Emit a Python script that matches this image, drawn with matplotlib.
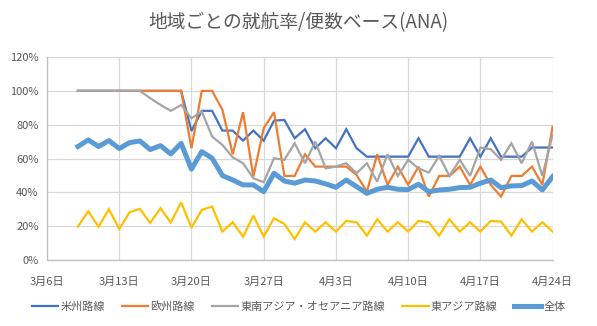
import matplotlib
matplotlib.use("Agg")
import matplotlib.pyplot as plt
import matplotlib.dates as mdates
import pandas as pd

plt.rcParams['font.family'] = ['Noto Sans CJK JP', 'DejaVu Sans']

title = "地域ごとの就航率/便数ベース(ANA)"
series_names = ["米州路線", "欧州路線", "東南アジア・オセアニア路線", "東アジア路線", "全体"]

start_date = "2020-03-09"
n_days = 47
dates = pd.date_range(start_date, periods=n_days, freq="D")

americas = [100, 100, 100, 100, 100, 100, 100, 100, 100, 100, 100,
            76.3, 88.2, 88.2, 76.5, 76.5, 70.6, 76.5, 70.6, 82.4, 82.8, 72, 77.3,
            66.1, 72, 66.1, 77.3, 66.1, 61.1, 61.1, 61.1, 61.1, 61.1, 72, 61.1,
            61.1, 61.1, 61.1, 72, 61.1, 72, 61.1, 61.1, 61.1, 66.5, 66.5, 66.5]
europe = [100, 100, 100, 100, 100, 100, 100, 100, 100, 100, 100,
          66.1, 100, 100, 88.8, 62.5, 87.4, 49.3, 77.9, 87.4, 49.7, 49.7, 62.5,
          55.2, 55.2, 55.2, 55.2, 50.3, 40.4, 62.5, 44.4, 55.2, 44.4, 55.2, 37.5,
          49.7, 49.7, 55.2, 44.4, 55.2, 44.4, 37.5, 49.7, 49.7, 55.2, 44.4, 78.9]
se_asia = [100, 100, 100, 100, 100, 100, 100,
           95.7, 91.7, 88.2, 91.7, 83.8, 87.8, 73, 68, 60.7, 57.2, 48.3, 46, 60.2, 59.2, 69, 57.2,
           70, 54.2, 55.2, 57.2, 51.3, 57.2, 46.3, 62.5, 49.7, 59.2, 54.2, 51.7,
           61.5, 49.7, 59.2, 49.7, 66.5, 65.5, 59.2, 69, 57.2, 70, 49.7, 74]
east_asia = [19.7, 28.8, 19.7, 30, 18.3, 28.2, 30.2, 21.9, 30.6, 22.1, 34.1, 19.1,
             29.6, 31.6, 16.8, 22.3, 13.8, 26.2, 13.8, 24.7, 21.3, 12.4, 22.3,
             16.8, 22.3, 16.8, 23.1, 22.3, 14.4, 24.1, 16.8, 22.3, 16.8, 23.1, 22.3,
             14.4, 24.1, 16.8, 22.3, 16.8, 23.1, 22.7, 14.4, 24.1, 16.8, 22.3, 16.8]
overall = [67.1, 71, 67.1, 70.6, 65.9, 69.4, 70.4, 65.3, 67.6, 62.7, 69, 53.7,
           64.1, 60.2, 49.9, 47.3, 44.4, 44.4, 40.4, 51.3, 46.7, 45.4, 47.3,
           46.7, 45, 43, 47.3, 43.4, 39.4, 41.8, 43, 41.8, 41.6, 44.8, 40.4,
           41.4, 41.8, 42.8, 43, 45.4, 47.3, 42.8, 43.8, 44, 46.7, 41.4, 49.3]

colors = ["#4472C4", "#ED7D31", "#A5A5A5", "#FFC000", "#5B9BD5"]
widths = [1.6, 1.6, 1.6, 1.6, 3.6]
data = [americas, europe, se_asia, east_asia, overall]

fig = plt.figure(figsize=(5.97, 3.26), dpi=100)
ax = fig.add_axes([0.0787, 0.2025, 0.847, 0.6225])

for name, vals, c, w in zip(series_names, data, colors, widths):
    ax.plot(dates, [v / 100 for v in vals], color=c, lw=w, label=name,
            solid_joinstyle="miter" if w < 2 else "round")

ax.set_ylim(0, 1.2)
ax.set_yticks([0, 0.2, 0.4, 0.6, 0.8, 1.0, 1.2])
ax.set_yticklabels(["0%", "20%", "40%", "60%", "80%", "100%", "120%"])
xticks = pd.date_range("2020-03-06", "2020-04-24", freq="7D")
ax.set_xlim(xticks[0], xticks[-1])
ax.set_xticks(xticks)
ax.set_xticklabels([f"{d.month}月{d.day}日" for d in xticks])

ax.grid(True, color="#D9D9D9", lw=0.9)
ax.set_axisbelow(True)
for s in ["top", "right"]:
    ax.spines[s].set_visible(False)
for s in ["left", "bottom"]:
    ax.spines[s].set_color("#BFBFBF")
    ax.spines[s].set_linewidth(0.9)
ax.tick_params(length=0, labelsize=8, colors="#595959", pad=6)
ax.tick_params(axis="x", pad=12)

fig.text(0.5, 0.93, title, ha="center", va="center", fontsize=13.5, color="#595959")

leg = fig.legend(loc="center", bbox_to_anchor=(0.5, 0.06), ncol=5, frameon=False,
                 fontsize=8, handlelength=2.4, columnspacing=1.5, handletextpad=0.2)
for t in leg.get_texts():
    t.set_color("#595959")

fig.savefig("out.png", dpi=100)
